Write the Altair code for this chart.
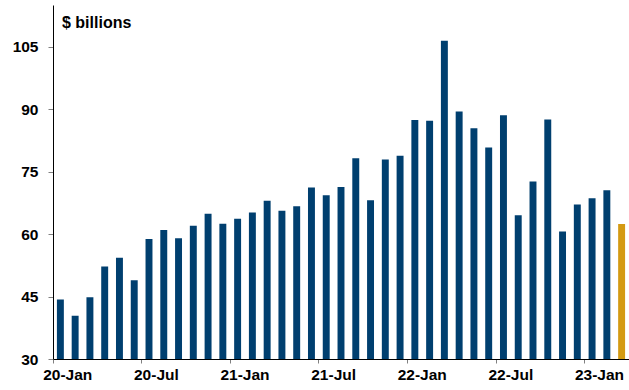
import altair as alt
import pandas as pd

years = ["20", "21", "22", "23"]
month_names = ["Jan", "Feb", "Mar", "Apr", "May", "Jun",
               "Jul", "Aug", "Sep", "Oct", "Nov", "Dec"]
categories = [f"{y}-{m}" for y in years for m in month_names][:39]

values = [44.3, 40.4, 44.8, 52.2, 54.3, 48.9, 58.8, 61.0, 59.0, 62.0, 64.9, 62.5,
          63.7, 65.2, 68.0, 65.6, 66.7, 71.2, 69.3, 71.3, 78.2, 68.1, 77.9, 78.8,
          87.4, 87.2, 106.4, 89.4, 85.4, 80.8, 88.5, 64.5, 72.6, 87.5, 60.6, 67.1,
          68.6, 70.5, 62.4]
series = ["Actual"] * 38 + ["Latest"]

tick_labels = ["20-Jan", "20-Jul", "21-Jan", "21-Jul", "22-Jan", "22-Jul", "23-Jan"]
y_ticks = [30, 45, 60, 75, 90, 105]

df = pd.DataFrame({"month": categories, "value": values, "series": series})

FONT = "Liberation Sans"

bars = alt.Chart(df).mark_bar(width={"band": 0.47}, clip=True).encode(
    x=alt.X("month:N", sort=categories,
            scale=alt.Scale(paddingInner=0, paddingOuter=0),
            axis=alt.Axis(title=None, values=tick_labels, labelAngle=0,
                          bandPosition=0, labelOffset=7.4, tickSize=4,
                          tickColor="#808080", domainColor="#000000",
                          domainWidth=1, labelPadding=4, labelFont=FONT,
                          labelFontSize=15.5, labelFontWeight="bold",
                          labelColor="#000000")),
    y=alt.Y("value:Q", scale=alt.Scale(domain=[30, 115], nice=False, zero=False),
            axis=alt.Axis(title=None, values=y_ticks, grid=False, tickSize=5,
                          tickColor="#808080", domainColor="#000000",
                          domainWidth=1, labelPadding=10, labelFont=FONT,
                          labelFontSize=15.5, labelFontWeight="bold",
                          labelColor="#000000")),
    color=alt.Color("series:N",
                    scale=alt.Scale(domain=["Actual", "Latest"],
                                    range=["#003F6F", "#D49A12"]),
                    legend=None),
)

label = alt.Chart(pd.DataFrame({"t": ["$ billions"]})).mark_text(
    align="left", baseline="alphabetic", font=FONT, fontSize=16,
    fontWeight="bold", color="#000000"
).encode(text="t:N", x=alt.value(9), y=alt.value(23))

chart = alt.layer(bars, label).properties(
    width=576, height=354,
    autosize=alt.AutoSizeParams(type="none"),
    padding={"left": 53, "top": 5, "right": 0, "bottom": 31},
).configure_view(stroke=None)

chart.save("out.html", embed_options={"renderer": "svg", "actions": False})
